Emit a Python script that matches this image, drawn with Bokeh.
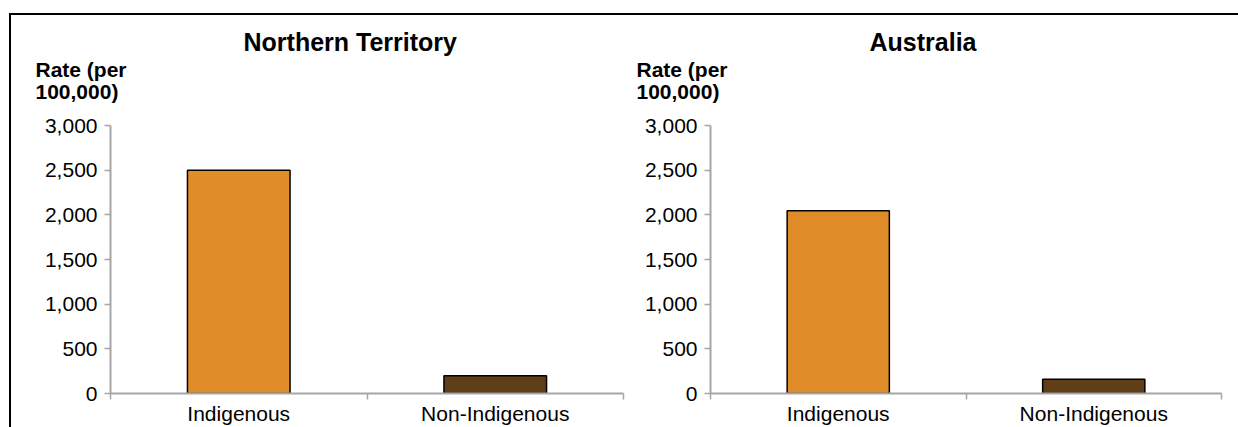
from bokeh.plotting import figure
from bokeh.layouts import row
from bokeh.models import Range1d, FixedTicker, NumeralTickFormatter, Title, ColumnDataSource
from bokeh.embed import file_html
from bokeh.resources import INLINE

# ---- data ----
categories = ["Indigenous", "Non-Indigenous"]
nt_rates = [2500, 198]
aus_rates = [2045, 160]
bar_colors = ["#E08C28", "#603E18"]
y_ticks = [0, 500, 1000, 1500, 2000, 2500, 3000]
panel_titles = ["Northern Territory", "Australia"]
y_label_lines = ["Rate (per", "100,000)"]

FONT = "Liberation Sans"
AXIS_GRAY = "#A6A6A6"


def make_panel(title, rates, width, height, mb_left, mb_right, mb_top, mb_bottom, title_off, lab_off):
    p = figure(width=width, height=height, output_backend="svg", toolbar_location=None,
               x_range=Range1d(0, len(categories)), y_range=Range1d(0, 3000),
               min_border_left=mb_left, min_border_right=mb_right, min_border_top=mb_top,
               min_border_bottom=mb_bottom)
    p.outline_line_color = None
    p.grid.visible = False
    p.background_fill_color = "white"
    p.border_fill_color = "white"

    xs = [i + 0.5 for i in range(len(categories))]
    src = ColumnDataSource(dict(x=xs, top=rates, color=bar_colors, cat=categories))
    p.vbar(x="x", top="top", bottom=0, width=0.40, fill_color="color",
           line_color="black", line_width=1.5, source=src)

    # x axis: category labels at centres, boundary ticks as minor ticks
    xa = p.xaxis[0]
    xa.ticker = FixedTicker(ticks=xs, minor_ticks=list(range(len(categories) + 1)))
    xa.major_label_overrides = {x: c for x, c in zip(xs, categories)}
    xa.major_tick_line_color = None
    xa.minor_tick_line_color = AXIS_GRAY
    xa.minor_tick_line_width = 1.5
    xa.minor_tick_out = 6
    xa.minor_tick_in = 0
    xa.axis_line_color = AXIS_GRAY
    xa.axis_line_width = 2
    xa.major_label_text_font = FONT
    xa.major_label_text_font_size = "21px"
    xa.major_label_text_line_height = 1.0
    xa.major_label_text_color = "black"
    xa.major_label_standoff = 2

    ya = p.yaxis[0]
    ya.ticker = FixedTicker(ticks=y_ticks)
    ya.formatter = NumeralTickFormatter(format="0,0")
    ya.major_tick_line_color = AXIS_GRAY
    ya.major_tick_line_width = 1.5
    ya.major_tick_out = 6
    ya.major_tick_in = 0
    ya.minor_tick_line_color = None
    ya.axis_line_color = AXIS_GRAY
    ya.axis_line_width = 2
    ya.major_label_text_font = FONT
    ya.major_label_text_font_size = "21px"
    ya.major_label_text_color = "black"
    ya.major_label_standoff = 7

    # stacked from the frame upwards: y-axis caption (trailing blank line as gap), panel title
    p.add_layout(Title(text="\n".join(y_label_lines) + "\n", align="left", offset=lab_off, standoff=0,
                       text_font=FONT, text_font_size="21px", text_font_style="bold",
                       text_line_height=0.97, text_color="black"), "above")
    p.add_layout(Title(text=title, align="left", offset=title_off, standoff=0,
                       text_font=FONT, text_font_size="25px", text_font_style="bold",
                       text_line_height=1.0, text_color="black"), "above")
    return p


p1 = make_panel(panel_titles[0], nt_rates, width=620, height=412, mb_left=99, mb_right=8,
                mb_top=110, mb_bottom=34, title_off=133, lab_off=-75)
p2 = make_panel(panel_titles[1], aus_rates, width=607, height=412, mb_left=79, mb_right=17,
                mb_top=110, mb_bottom=34, title_off=159, lab_off=-74)

layout = row(p1, p2, styles={"border-top": "2px solid black", "border-left": "2px solid black",
                             "margin-top": "13px", "margin-left": "9px", "margin-bottom": "-20px"})

open("out.html", "w").write(file_html(layout, INLINE))
